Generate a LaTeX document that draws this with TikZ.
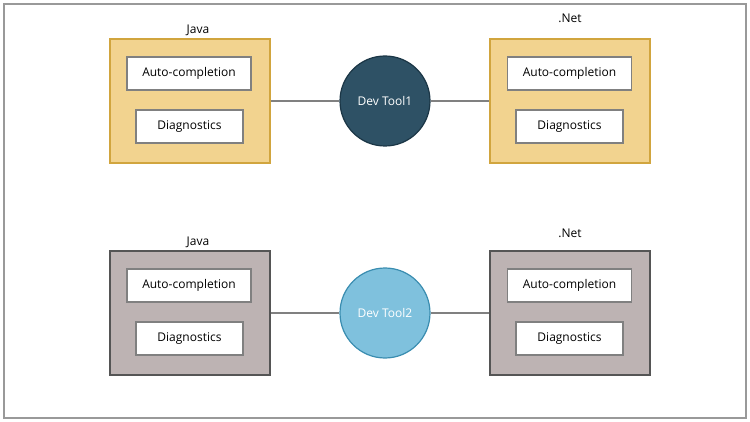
\documentclass[tikz,border=0pt]{standalone}
\usepackage{fontspec}
\setmainfont{Open Sans}

\definecolor{javafill}{HTML}{F2D38F}
\definecolor{javaline}{HTML}{D1A53E}
\definecolor{greyfill}{HTML}{BDB3B3}
\definecolor{greyline}{HTML}{555555}
\definecolor{darktool}{HTML}{2E5165}
\definecolor{darkline}{HTML}{1B3646}
\definecolor{lighttool}{HTML}{7FC1DD}
\definecolor{lightline}{HTML}{3A8DB0}

\tikzset{
	lang/.style = {draw, line width = 1.5pt, minimum width = 160pt, minimum height = 124pt},
	feature/.style = {draw = gray, fill = white, line width = 1.2pt, minimum height = 33pt, font = \fontsize{12}{14}\selectfont},
	tool/.style = {circle, draw, line width = 1.2pt, minimum size = 90pt, text = white, font = \fontsize{12}{14}\selectfont},
	caption/.style = {font = \fontsize{12}{14}\selectfont},
	wire/.style = {draw = gray, line width = 1.2pt}
}

\begin{document}
\begin{tikzpicture}[x = 1pt, y = -1pt]
	\useasboundingbox (0,0) rectangle (750,422);
	\draw[gray!80, line width = 2pt] (4,4) rectangle (746,418);
	
	% top row
	\node[lang, fill = javafill, draw = javaline] (JT) at (190,101) {};
	\node[lang, fill = javafill, draw = javaline] (NT) at (570,101) {};
	\node[caption] (JTL) at (198,30) {Java};
	\node[caption] (NTL) at (570,18) {.Net};
	\node[feature, minimum width = 124pt] (JTA) at (189,73.5) {Auto-completion};
	\node[feature, minimum width = 107pt] (JTD) at (189.5,126.5) {Diagnostics};
	\node[feature, minimum width = 124pt] (NTA) at (569.5,73.5) {Auto-completion};
	\node[feature, minimum width = 107pt] (NTD) at (569.5,126.5) {Diagnostics};
	\node[tool, fill = darktool, draw = darkline] (T1) at (385,101) {Dev Tool1};
	\draw[wire] (JT.east) -- (T1.west) (T1.east) -- (NT.west);
	
	% bottom row
	\node[lang, fill = greyfill, draw = greyline] (JB) at (190,313) {};
	\node[lang, fill = greyfill, draw = greyline] (NB) at (570,313) {};
	\node[caption] (JBL) at (198,242) {Java};
	\node[caption] (NBL) at (570,233) {.Net};
	\node[feature, minimum width = 124pt] (JBA) at (189,285.5) {Auto-completion};
	\node[feature, minimum width = 107pt] (JBD) at (189.5,338.5) {Diagnostics};
	\node[feature, minimum width = 124pt] (NBA) at (569.5,285.5) {Auto-completion};
	\node[feature, minimum width = 107pt] (NBD) at (569.5,338.5) {Diagnostics};
	\node[tool, fill = lighttool, draw = lightline] (T2) at (385,313) {Dev Tool2};
	\draw[wire] (JB.east) -- (T2.west) (T2.east) -- (NB.west);
\end{tikzpicture}
\end{document}
